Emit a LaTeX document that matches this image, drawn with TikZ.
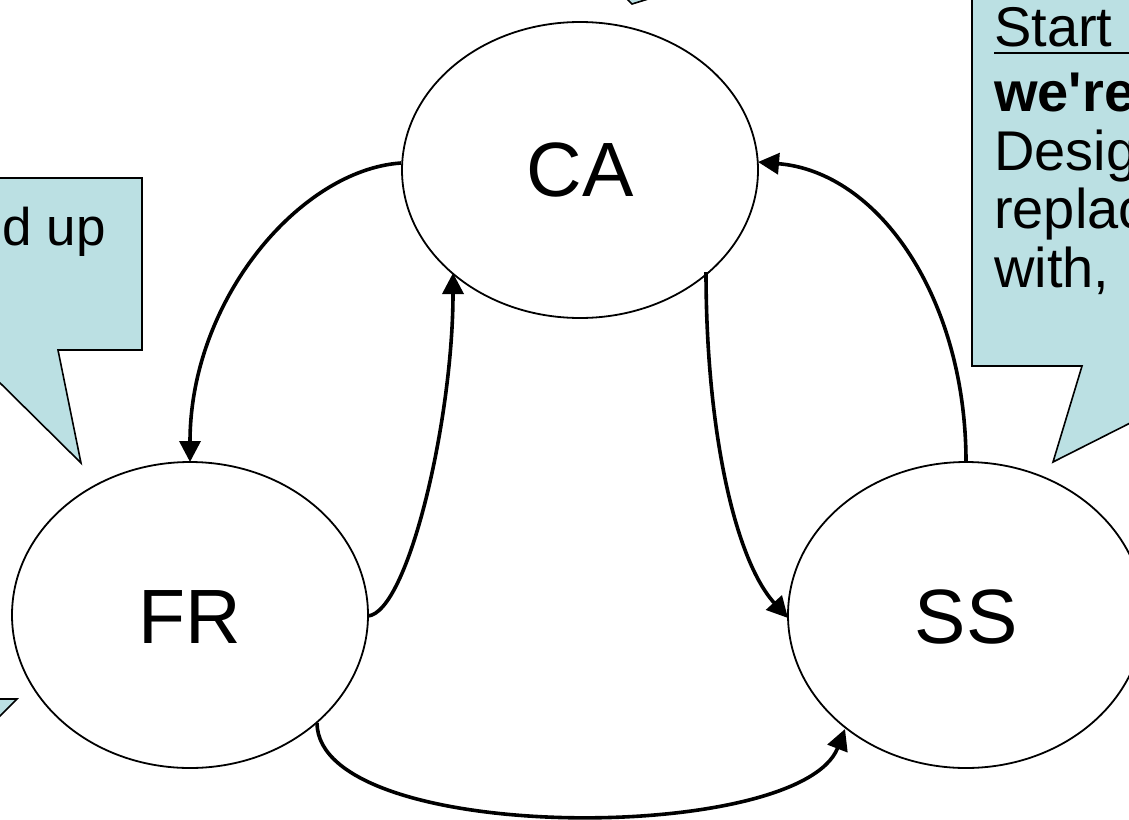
\documentclass[tikz,border=0pt]{standalone}
\usepackage{fontspec}
\setmainfont{Liberation Sans}
\usetikzlibrary{arrows.meta}
\definecolor{callblue}{RGB}{187,224,227}
\tikzset{
  state/.style={draw=black, line width=1.8pt},
  callout/.style={draw=black, fill=callblue, line width=1.6pt, line join=miter},
  conn/.style={draw=black, line width=3.6pt, -{Triangle[length=21pt,width=21pt]}},
  big/.style={font=\fontsize{77}{80}\selectfont},
  calltext/.style={font=\fontsize{56}{60}\selectfont, anchor=base west, inner sep=0pt}
}
\begin{document}
\begin{tikzpicture}[x=1pt,y=-1pt]
\path[use as bounding box] (0,0) rectangle (1129,819);
\clip (0,0) rectangle (1129,819);
% callouts
\path[callout] (-10,178) -- (142,178) -- (142,350) -- (58,350) -- (81,463) -- (-10,373) -- cycle;
\node[calltext, font=\fontsize{53}{58}\selectfont, anchor=base east] (l1) at (106,245) {d up};
\path[callout] (972,-10) -- (972,366) -- (1082,366) -- (1053,462) -- (1150,413) -- (1150,-10) -- cycle;
\node[calltext] (r1) at (994,46) {Start};
\draw[line width=2.5pt] (994,53) -- (1140,53);
\node[calltext] (r2) at (994,111) {\bfseries we\textquotesingle re};
\node[calltext] (r3) at (994,170) {Desig};
\node[calltext] (r4) at (994,228) {replac};
\node[calltext] (r5) at (994,287) {with,};
\path[callout] (-10,699) -- (17,699) -- (-10,726) -- cycle;
\path[callout] (624,-4) -- (632,4) -- (658,-4) -- cycle;
% states
\draw[state] (580,170) ellipse [x radius=178, y radius=148];
\node[big] (CA) at (580,170) {CA};
\draw[state] (190,615) ellipse [x radius=178, y radius=153];
\node[big] (FR) at (190,617) {FR};
\draw[state] (966,615) ellipse [x radius=178, y radius=153];
\node[big] (SS) at (966,617) {SS};
% connector endpoints on ellipse borders
\coordinate (caL) at (401,163);
\coordinate (caB) at (453,273);
\coordinate (caBR) at (706,272);
\coordinate (caR) at (758,162);
\coordinate (frT) at (190,462);
\coordinate (frR) at (368,616);
\coordinate (frBR) at (317,723);
\coordinate (ssL) at (788,618);
\coordinate (ssT) at (966,462);
\coordinate (ssBL) at (845,729);
% connectors
\draw[conn] (caL) .. controls (300,170) and (190,300) .. (frT);
\draw[conn] (frR) .. controls (408,612) and (453,420) .. (caB);
\draw[conn] (caBR) .. controls (706,430) and (735,560) .. (ssL);
\draw[conn] (ssT) .. controls (966,300) and (880,172) .. (caR);
\draw[conn] (frBR) .. controls (318,845) and (800,845) .. (ssBL);
\end{tikzpicture}
\end{document}
